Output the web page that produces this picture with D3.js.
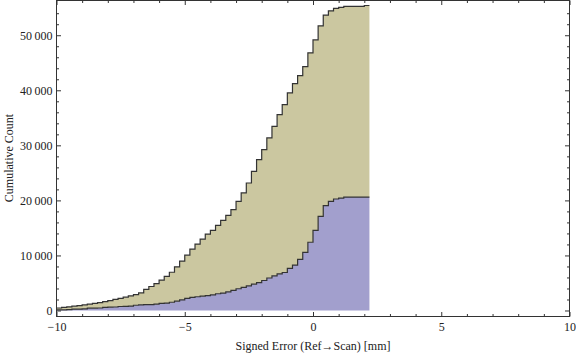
<!DOCTYPE html>
<html>
<head>
<meta charset="utf-8">
<script src="https://cdn.jsdelivr.net/npm/d3@7"></script>
<style>
  body { margin: 0; background: #fff; }
  text { font-family: "Liberation Serif", "Times New Roman", serif; fill: #222; }
</style>
</head>
<body>
<script>
/* global d3 */

// bin edges (lower edge of each 0.2 mm bin, plus the final upper edge)
const binEdges = [
  -10, -9.8, -9.6, -9.4, -9.2, -9, -8.8, -8.6, -8.4, -8.2,
  -8, -7.8, -7.6, -7.4, -7.2, -7, -6.8, -6.6, -6.4, -6.2,
  -6, -5.8, -5.6, -5.4, -5.2, -5, -4.8, -4.6, -4.4, -4.2,
  -4, -3.8, -3.6, -3.4, -3.2, -3, -2.8, -2.6, -2.4, -2.2,
  -2, -1.8, -1.6, -1.4, -1.2, -1, -0.8, -0.6, -0.4, -0.2,
  0, 0.2, 0.4, 0.6, 0.8, 1, 1.2, 1.4, 1.6, 1.8,
  2, 2.2
];

// cumulative counts, lower (blue) series
const blueCum = [
  130, 130, 150, 250, 250, 300, 430, 430, 450, 550,
  610, 640, 730, 750, 800, 950, 1030, 1050, 1080, 1150,
  1280, 1350, 1500, 1700, 1940, 2200, 2400, 2500, 2600, 2700,
  2850, 3040, 3160, 3400, 3650, 3950, 4200, 4490, 4780, 5050,
  5450, 5900, 6300, 6650, 6900, 7650, 8250, 9300, 10550, 12400,
  14550, 17090, 19040, 19820, 20250, 20430, 20610, 20610, 20610, 20610,
  20610
];

// cumulative counts, upper (beige) series, stacked on the blue one
const beigeCum = [
  320, 430, 510, 530, 650, 720, 720, 850, 990, 1070,
  1190, 1370, 1490, 1670, 1850, 1930, 2170, 2800, 3280, 3730,
  4240, 4840, 5450, 6240, 7030, 7850, 8760, 9570, 10380, 11190,
  11700, 12410, 13200, 13870, 14660, 15870, 17150, 18670, 20490, 22350,
  23770, 25450, 27150, 28930, 30500, 31880, 32970, 33370, 33750, 34400,
  34600, 34620, 34620, 34620, 34630, 34640, 34650, 34650, 34650, 34650,
  34790
];

const xMajor = [-10, -5, 0, 5, 10];
const xMinor = [-9, -8, -7, -6, -4, -3, -2, -1, 1, 2, 3, 4, 6, 7, 8, 9];
const yMajor = [0, 10000, 20000, 30000, 40000, 50000];
const yMinor = [2000, 4000, 6000, 8000, 12000, 14000, 16000, 18000, 22000, 24000,
  26000, 28000, 32000, 34000, 36000, 38000, 42000, 44000, 46000, 48000, 52000, 54000];

//width and height
var w = 576;
var h = 357;
var padL = 56.5, padR = 569.5, padT = 0.5, padB = 316.5;

var xScale = d3.scaleLinear().domain([-10, 10]).range([padL, padR]);
var yScale = d3.scaleLinear().domain([-1090, 56310]).range([padB, padT]);

var svg = d3.select("body").append("svg").attr("width", w).attr("height", h);

// rows: one per edge, last edge repeats the last bin value
var rows = binEdges.map(function (e, i) {
  var j = Math.min(i, blueCum.length - 1);
  return { x: e, blue: blueCum[j], beige: beigeCum[j] };
});

var stacked = d3.stack().keys(["blue", "beige"])(rows);
var colors = { blue: "#a29fcd", beige: "#cbc7a0" };

var area = d3
  .area()
  .curve(d3.curveStepAfter)
  .x(function (d) { return xScale(d.data.x); })
  .y0(function (d) { return yScale(d[0]); })
  .y1(function (d) { return yScale(d[1]); });

var line = d3
  .line()
  .curve(d3.curveStepAfter)
  .x(function (d) { return xScale(d.data.x); })
  .y(function (d) { return yScale(d[1]); });

svg
  .selectAll("path.layer")
  .data(stacked)
  .enter()
  .append("path")
  .attr("class", "layer")
  .attr("d", area)
  .attr("fill", function (d) { return colors[d.key]; });

svg
  .selectAll("path.edge")
  .data(stacked)
  .enter()
  .append("path")
  .attr("class", "edge")
  .attr("d", line)
  .attr("fill", "none")
  .attr("stroke", "#333")
  .attr("stroke-width", 1.2);

var fmt = function (d) {
  return d3.format(",")(d).replace(",", "\u2009");
};

function addAxis(axisFn, scale, values, size, pos, labels, pad) {
  var g = svg
    .append("g")
    .attr("transform", pos)
    .call(
      axisFn(scale)
        .tickValues(values)
        .tickSize(-size)
        .tickPadding(pad || 3)
        .tickFormat(labels ? labels : "")
    );
  g.select(".domain").remove();
  g.selectAll("line").attr("stroke", "#333");
  g.selectAll("text").attr("font-size", "12px").attr("fill", "#222");
  return g;
}

//x axis bottom and top
addAxis(d3.axisBottom, xScale, xMajor, 4.5, "translate(0," + padB + ")", d3.format(""), 5.5);
addAxis(d3.axisBottom, xScale, xMinor, 2.5, "translate(0," + padB + ")", null);
addAxis(d3.axisTop, xScale, xMajor, 4.5, "translate(0," + padT + ")", null);
addAxis(d3.axisTop, xScale, xMinor, 2.5, "translate(0," + padT + ")", null);

//y axis left and right
addAxis(d3.axisLeft, yScale, yMajor, 4.5, "translate(" + padL + ",0)", fmt, 4);
addAxis(d3.axisLeft, yScale, yMinor, 2.5, "translate(" + padL + ",0)", null);
addAxis(d3.axisRight, yScale, yMajor, 4.5, "translate(" + padR + ",0)", null);
addAxis(d3.axisRight, yScale, yMinor, 2.5, "translate(" + padR + ",0)", null);

//frame
svg
  .append("rect")
  .attr("x", padL)
  .attr("y", padT)
  .attr("width", padR - padL)
  .attr("height", padB - padT)
  .attr("fill", "none")
  .attr("stroke", "#333")
  .attr("stroke-width", 1);

//labels
svg
  .append("text")
  .attr("x", (padL + padR) / 2)
  .attr("y", 350)
  .attr("text-anchor", "middle")
  .attr("font-size", "12px")
  .text("Signed Error (Ref\u2192Scan) [mm]");

svg
  .append("text")
  .attr("transform", "translate(12.5,158) rotate(-90)")
  .attr("text-anchor", "middle")
  .attr("font-size", "12px")
  .text("Cumulative Count");
</script>
</body>
</html>
